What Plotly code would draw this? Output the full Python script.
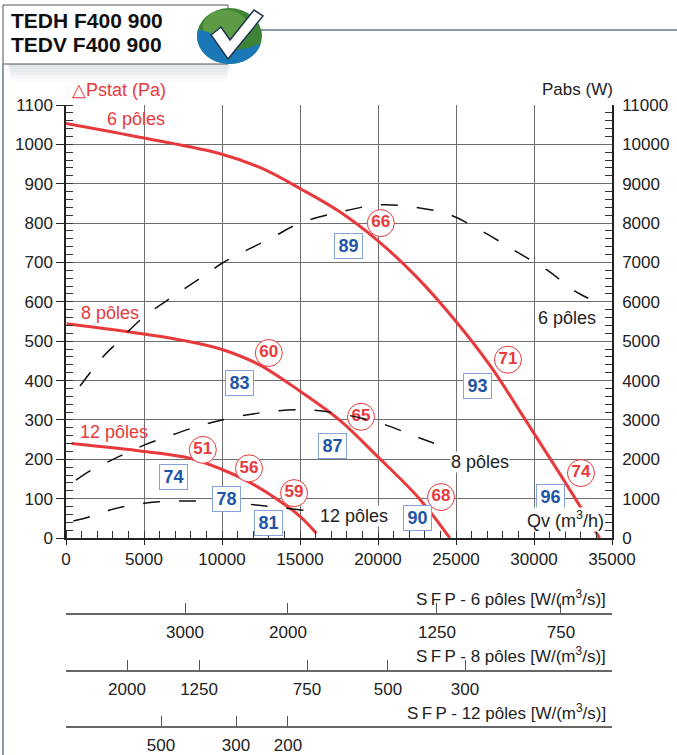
import numpy as np
import plotly.graph_objects as go

# ---- static pressure curves (Qv m3/h, Pa) ----
c6_q = [0, 5000, 10000, 12500, 15000, 17500, 20000, 22500, 25000, 27200, 29450, 31800, 34200]
c6_p = [1053, 1016, 975, 940, 888, 830, 755, 662, 550, 437, 300, 154, 0]
c8_q = [40, 5000, 7500, 10000, 12400, 15000, 17520, 20000, 22650, 24600]
c8_p = [544, 518, 502, 479, 440, 373, 300, 206, 100, 0]
c12_q = [350, 5000, 8000, 10000, 11600, 13480, 15000, 16050]
c12_p = [240, 220, 202, 174, 145, 100, 55, 12]

# ---- absorbed power curves (Qv m3/h, W) ----
p6_q = [900, 2390, 3250, 5000, 6990, 9020, 10000, 13290, 15000, 17560, 20000, 22240, 24600, 26860, 28900, 30830, 32520, 33480]
p6_w = [3860, 4610, 4950, 5620, 6170, 6710, 6980, 7650, 8000, 8280, 8460, 8410, 8210, 7750, 7270, 6810, 6300, 6090]
p8_q = [640, 1650, 2820, 3890, 5000, 6460, 8380, 10000, 12440, 15000, 17350, 20130, 22480, 24080]
p8_w = [1470, 1730, 1960, 2160, 2360, 2570, 2830, 3000, 3180, 3260, 3170, 2920, 2570, 2340]
p12_q = [470, 1540, 2820, 3890, 5000, 5970, 7950, 8800, 11150, 13290, 16070]
p12_w = [430, 540, 710, 810, 880, 920, 940, 930, 880, 790, 665]

# ---- efficiency labels (blue boxes) ----
eff_txt = ["89", "83", "93", "87", "74", "78", "81", "90", "96"]
eff_q = [18080, 11120, 26350, 17080, 6910, 10280, 12970, 22500, 31060]
eff_p = [741, 395, 385, 234, 154, 100, 39, 51, 105]

# ---- sound labels (red circles) ----
snd_txt = ["66", "60", "65", "71", "51", "56", "59", "68", "74"]
snd_q = [20180, 13000, 18910, 28330, 8770, 11730, 14620, 24040, 33010]
snd_p = [800, 470, 308, 453, 224, 177, 114, 104, 165]

# ---- SFP scales ----
sfp6_q = [7630, 14230, 23780, 31730]
sfp6_txt = ["3000", "2000", "1250", "750"]
sfp8_q = [3910, 8530, 15450, 20640, 25580]
sfp8_txt = ["2000", "1250", "750", "500", "300"]
sfp12_q = [6090, 10900, 14230]
sfp12_txt = ["500", "300", "200"]

RED = "#E8393C"
BLUE = "#1F55A6"
SANS = "Liberation Sans, Arial, sans-serif"

W, H = 677, 755
ML, MR, MT, MB = 66, 65, 105, 20
PW, PH = W - ML - MR, H - MT - MB


def px(x, y):
    # pixel -> paper coords
    return (x - ML) / PW, (H - MB - y) / PH


def path(points):
    pts = [px(x, y) for x, y in points]
    return "M " + " L ".join(f"{a:.4f},{b:.4f}" for a, b in pts) + " Z"


def paper_text(x, y, text, size, color="#222", xanchor="left", bold=False):
    xp, yp = px(x, y)
    fig.add_annotation(xref="paper", yref="paper", x=xp, y=yp, xanchor=xanchor, yanchor="middle",
                       text=f"<b>{text}</b>" if bold else text, showarrow=False,
                       font=dict(family=SANS, size=size, color=color))


fig = go.Figure()

# power curves (right axis)
for q, w in [(p6_q, p6_w), (p8_q, p8_w), (p12_q, p12_w)]:
    fig.add_trace(go.Scatter(x=q, y=w, yaxis="y2", mode="lines", line_shape="spline",
                             line=dict(color="#111", width=1.5, dash="17px,19px"),
                             showlegend=False, hoverinfo="skip"))

# pressure curves
for q, p in [(c6_q, c6_p), (c8_q, c8_p), (c12_q, c12_p)]:
    fig.add_trace(go.Scatter(x=q, y=p, mode="lines", line_shape="spline",
                             line=dict(color=RED, width=3),
                             showlegend=False, hoverinfo="skip"))

# red circled values
fig.add_trace(go.Scatter(x=snd_q, y=snd_p, mode="markers+text", text=snd_txt,
                         textposition="middle center",
                         textfont=dict(family=SANS, size=17, color=RED, weight="bold"),
                         marker=dict(size=27, color="white", line=dict(color=RED, width=1)),
                         showlegend=False, hoverinfo="skip"))

# dummy traces for the SFP scales
for ax in ["x2", "x3", "x4"]:
    fig.add_trace(go.Scatter(x=[None], y=[None], xaxis=ax, yaxis="y", showlegend=False, hoverinfo="skip"))

# blue boxes
for t, q, p in zip(eff_txt, eff_q, eff_p):
    fig.add_annotation(x=q, y=p, text=f"<b>{t}</b>", showarrow=False,
                       font=dict(family=SANS, size=18, color=BLUE),
                       bgcolor="white", bordercolor="#86A2D6", borderwidth=1,
                       borderpad=1, width=25, height=22)

# curve name labels
lab_font_r = dict(family=SANS, size=18, color=RED)
lab_font_k = dict(family=SANS, size=18, color="#222")
fig.add_annotation(x=4490, y=1064, text="6 pôles", showarrow=False, font=lab_font_r)
fig.add_annotation(x=2820, y=572, text="8 pôles", showarrow=False, font=lab_font_r)
fig.add_annotation(x=3080, y=270, text="12 pôles", showarrow=False, font=lab_font_r)
fig.add_annotation(x=32120, y=559, text="6 pôles", showarrow=False, font=lab_font_k)
fig.add_annotation(x=26540, y=193, text="8 pôles", showarrow=False, font=lab_font_k,
                   bgcolor="white", borderpad=0)
fig.add_annotation(x=18460, y=56, text="12 pôles", showarrow=False, font=lab_font_k,
                   bgcolor="white", borderpad=0)
fig.add_annotation(x=32050, y=46, text="Qv (m<sup>3</sup>/h)", showarrow=False, font=lab_font_k,
                   bgcolor="white", borderpad=0)

# axis titles, SFP titles, header
paper_text(70, 90, "△Pstat (Pa)", 18, RED)
paper_text(615, 89, "Pabs (W)", 17, xanchor="right")
paper_text(608, 598, "S\u2009F\u2009P - 6 pôles [W/(m<sup>3</sup>/s)]", 17, xanchor="right")
paper_text(608, 655, "S\u2009F\u2009P - 8 pôles [W/(m<sup>3</sup>/s)]", 17, xanchor="right")
paper_text(608, 712, "S\u2009F\u2009P - 12 pôles [W/(m<sup>3</sup>/s)]", 17, xanchor="right")
paper_text(9, 20, "TEDH F400 900", 21, "#111", bold=True)
paper_text(9, 45, "TEDV F400 900", 21, "#111", bold=True)

# decorations: title box shadow, box, lines, logo
shapes = []
for i in range(6):
    x0, y0 = px(6 + i, 64)
    x1, y1 = px(232 - i, 66 + 3 * i)
    shapes.append(dict(type="rect", xref="paper", yref="paper", x0=x0, y0=y0, x1=x1, y1=y1,
                       fillcolor="#5A6B80", opacity=0.035, line=dict(width=0), layer="below"))
x0, y0 = px(3, 5)
x1, y1 = px(228, 64)
shapes.append(dict(type="rect", xref="paper", yref="paper", x0=x0, y0=y0, x1=x1, y1=y1,
                   fillcolor="white", line=dict(color="#555", width=1), layer="below"))
x0, y0 = px(3, 64)
x1, y1 = px(3, 755)
shapes.append(dict(type="line", xref="paper", yref="paper", x0=x0, y0=y0, x1=x1, y1=y1,
                   line=dict(color="#8A9BB0", width=2)))
x0, y0 = px(255, 30)
x1, y1 = px(677, 30)
shapes.append(dict(type="line", xref="paper", yref="paper", x0=x0, y0=y0, x1=x1, y1=y1,
                   line=dict(color="#8A9BB0", width=2)))
x0, y0 = px(197, 8)
x1, y1 = px(262, 64)
shapes.append(dict(type="circle", xref="paper", yref="paper", x0=x0, y0=y0, x1=x1, y1=y1,
                   fillcolor="#3F8436", line=dict(width=0)))
x0, y0 = px(203, 10)
x1, y1 = px(248, 44)
shapes.append(dict(type="circle", xref="paper", yref="paper", x0=x0, y0=y0, x1=x1, y1=y1,
                   fillcolor="#78AE55", opacity=0.55, line=dict(width=0)))
t = np.radians(np.linspace(193, 15, 30))
arc = list(zip(229.5 + 32.5 * np.cos(t), 36 + 28 * np.sin(t)))
arc += [(248, 48), (236, 50), (222, 40), (208, 32)]
shapes.append(dict(type="path", xref="paper", yref="paper", path=path(arc),
                   fillcolor="#1A78B6", line=dict(width=0)))
check = [(211, 35), (221, 27), (230, 40), (254, 10), (263, 16), (228, 59)]
shapes.append(dict(type="path", xref="paper", yref="paper", path=path(check),
                   fillcolor="white", line=dict(color="#1C3550", width=1.5)))

tick_font = dict(family=SANS, size=17, color="#222")
sfp_axis = dict(overlaying="x", anchor="free", range=[0, 35000], tickmode="array",
                ticks="inside", ticklen=10, tickcolor="#555", showline=True, linecolor="#666",
                linewidth=1.5, showgrid=False, zeroline=False, side="bottom", automargin=False,
                tickfont=tick_font, ticklabelstandoff=3)

fig.update_layout(
    width=W, height=H,
    margin=dict(l=ML, r=MR, t=MT, b=MB, autoexpand=False),
    paper_bgcolor="white", plot_bgcolor="white",
    showlegend=False,
    shapes=shapes,
    xaxis=dict(range=[0, 35000], dtick=5000, tickformat="d", showgrid=True, gridcolor="#6E6E6E",
               gridwidth=1, zeroline=False, showline=True, linecolor="#222", linewidth=1.5,
               ticks="outside", ticklen=5, tickcolor="#222", tickfont=tick_font, automargin=False,
               minor=dict(dtick=1000, ticks="inside", ticklen=7, tickcolor="#333")),
    yaxis=dict(range=[0, 1100], dtick=100, tickformat="d", domain=[(H - MB - 538) / PH, 1],
               showgrid=True, gridcolor="#6E6E6E", gridwidth=1, zeroline=False, showline=True,
               linecolor="#222", linewidth=1.5, ticks="outside", ticklen=8, tickcolor="#222",
               tickfont=tick_font, automargin=False,
               minor=dict(dtick=20, ticks="inside", ticklen=7, tickcolor="#333")),
    yaxis2=dict(range=[0, 11000], dtick=1000, tickformat="d", overlaying="y", side="right",
                showgrid=False, zeroline=False, showline=True, linecolor="#222", linewidth=1.5,
                ticks="", tickfont=tick_font, ticklabelstandoff=5, automargin=False,
                minor=dict(dtick=200, ticks="inside", ticklen=7, tickcolor="#333")),
    xaxis2=dict(sfp_axis, position=px(0, 614)[1], tickvals=sfp6_q, ticktext=sfp6_txt),
    xaxis3=dict(sfp_axis, position=px(0, 671)[1], tickvals=sfp8_q, ticktext=sfp8_txt),
    xaxis4=dict(sfp_axis, position=px(0, 727)[1], tickvals=sfp12_q, ticktext=sfp12_txt),
)

fig.write_html("out.html", config={"displayModeBar": False},
               post_script="document.body.style.margin='0';")
